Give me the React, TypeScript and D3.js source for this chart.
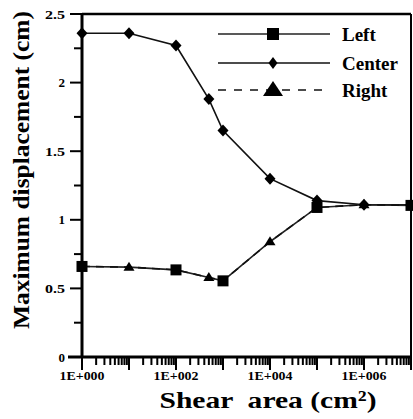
import React from "react";
import * as d3 from "d3";

const xValues = [1, 10, 100, 500, 1000, 1e4, 1e5, 1e6, 1e7];
const centerValues = [2.36, 2.36, 2.27, 1.88, 1.65, 1.3, 1.14, 1.11, 1.11];
const leftValues = [0.66, 0.655, 0.635, 0.58, 0.555, 0.84, 1.09, 1.11, 1.105];
const rightValues = [0.66, 0.655, 0.635, 0.58, 0.555, 0.84, 1.09, 1.11, 1.105];
const leftMarkerAt = [0, 2, 4, 6, 8];
const rightMarkerAt = [1, 3, 5, 7];
const yMajorTicks = [0, 0.5, 1, 1.5, 2, 2.5];
const yMinorTicks = [0.25, 0.75, 1.25, 1.75, 2.25];
const xLabelTicks = [1, 1e2, 1e4, 1e6];
const legendLabels = ["Left", "Center", "Right"];

const W = 413;
const H = 419;
const M = { left: 82, right: 411, top: 14, bottom: 357 };
const FONT = "'Liberation Serif', 'Times New Roman', serif";

function fmtE(v: number) {
  const e = Math.round(Math.log10(v));
  return "1E+" + String(e).padStart(3, "0");
}

export default function App() {
  const x = d3.scaleLog().domain([1, 1e7]).range([M.left, M.right]);
  const y = d3.scaleLinear().domain([0, 2.5]).range([M.bottom, M.top]);

  const minorX: number[] = [];
  for (let d = 0; d < 7; d++) for (let k = 2; k <= 9; k++) minorX.push(k * Math.pow(10, d));
  const majorX: number[] = d3.range(0, 8).map((d) => Math.pow(10, d));

  const line = d3
    .line<number>()
    .x((_, i) => x(xValues[i]))
    .y((v) => y(v));

  const diamond = (cx: number, cy: number, w: number, h: number) =>
    `M${cx},${cy - h / 2}L${cx + w / 2},${cy}L${cx},${cy + h / 2}L${cx - w / 2},${cy}Z`;
  const tri = (cx: number, cy: number, w: number, h: number) =>
    `M${cx},${cy - h * 0.6}L${cx + w / 2},${cy + h * 0.4}L${cx - w / 2},${cy + h * 0.4}Z`;

  const legY = [34, 63, 90];
  const legX1 = 218;
  const legX2 = 330;
  const legMx = 273;

  return (
    <svg width={W} height={H} style={{ position: "absolute", left: 0, top: 0, background: "#fff" }}>
      <rect x={0} y={0} width={W} height={H} fill="#fff" />
      {/* frame */}
      <line x1={M.left} x2={M.right} y1={M.top} y2={M.top} stroke="#000" strokeWidth={2.5} />
      <line x1={M.right} x2={M.right} y1={M.top} y2={M.bottom} stroke="#000" strokeWidth={2} />
      <line x1={M.left} x2={M.left} y1={M.top} y2={M.bottom} stroke="#000" strokeWidth={3} />
      <line x1={68} x2={M.right} y1={M.bottom} y2={M.bottom} stroke="#000" strokeWidth={3} />

      {/* y ticks */}
      {yMajorTicks.map((t) => (
        <g key={"ym" + t}>
          <line x1={70} x2={M.left} y1={y(t)} y2={y(t)} stroke="#000" strokeWidth={2} />
          <text
            x={65}
            y={y(t)}
            dy="0.35em"
            textAnchor="end"
            fontFamily={FONT}
            fontSize={13}
            fontWeight="bold"
            textLength={String(t).length > 1 ? 20 : undefined}
            lengthAdjust="spacingAndGlyphs"
          >
            {String(t)}
          </text>
        </g>
      ))}
      {yMinorTicks.map((t) => (
        <line key={"yn" + t} x1={74} x2={M.left} y1={y(t)} y2={y(t)} stroke="#000" strokeWidth={2} />
      ))}

      {/* x ticks */}
      {minorX.map((t) => (
        <line key={"xn" + t} x1={x(t)} x2={x(t)} y1={M.bottom} y2={M.bottom + 8} stroke="#000" strokeWidth={2} />
      ))}
      {majorX.map((t) => (
        <line key={"xm" + t} x1={x(t)} x2={x(t)} y1={M.bottom} y2={M.bottom + 13} stroke="#000" strokeWidth={2} />
      ))}
      {xLabelTicks.map((t) => (
        <text
          key={"xl" + t}
          x={x(t)}
          y={380}
          textAnchor="middle"
          fontFamily={FONT}
          fontSize={13}
          fontWeight="bold"
          textLength={45}
          lengthAdjust="spacingAndGlyphs"
        >
          {fmtE(t)}
        </text>
      ))}

      {/* axis titles */}
      <text
        x={268}
        y={408}
        textAnchor="middle"
        fontFamily={FONT}
        fontSize={24}
        fontWeight="bold"
        textLength={217}
        lengthAdjust="spacingAndGlyphs"
        style={{ whiteSpace: "pre" }}
      >
        {"Shear  area (cm²)"}
      </text>
      <text
        transform="translate(29,170) rotate(-90)"
        textAnchor="middle"
        fontFamily={FONT}
        fontSize={23}
        fontWeight="bold"
        textLength={318}
        lengthAdjust="spacingAndGlyphs"
      >
        Maximum displacement (cm)
      </text>

      {/* series lines */}
      <path d={line(centerValues) || ""} fill="none" stroke="#111" strokeWidth={1.6} />
      <path d={line(leftValues) || ""} fill="none" stroke="#222" strokeWidth={1.6} />
      <path d={line(rightValues) || ""} fill="none" stroke="#111" strokeWidth={1.6} strokeDasharray="8 6" />

      {/* markers */}
      {centerValues.map((v, i) => (
        <path key={"cd" + i} d={diamond(x(xValues[i]), y(v), 11, 12)} fill="#000" />
      ))}
      {leftMarkerAt.map((i) => (
        <rect key={"ls" + i} x={x(xValues[i]) - 5.5} y={y(leftValues[i]) - 5.5} width={11} height={11} fill="#000" />
      ))}
      {rightMarkerAt.map((i) => (
        <path key={"rt" + i} d={tri(x(xValues[i]), y(rightValues[i]), 11, 9)} fill="#000" />
      ))}

      {/* legend */}
      <line x1={legX1} x2={legX2} y1={legY[0]} y2={legY[0]} stroke="#222" strokeWidth={1.6} />
      <rect x={legMx - 6} y={legY[0] - 6} width={12} height={12} fill="#000" />
      <line x1={legX1} x2={legX2} y1={legY[1]} y2={legY[1]} stroke="#111" strokeWidth={1.6} />
      <path d={diamond(legMx, legY[1], 9, 12)} fill="#000" />
      <line x1={legX1} x2={legX2} y1={legY[2]} y2={legY[2]} stroke="#111" strokeWidth={1.6} strokeDasharray="8 8" />
      <path d={tri(legMx, legY[2], 20, 15)} fill="#000" />
      {legendLabels.map((l, i) => (
        <text key={l} x={342} y={legY[i]} dy="0.35em" fontFamily={FONT} fontSize={19} fontWeight="bold">
          {l}
        </text>
      ))}
    </svg>
  );
}
